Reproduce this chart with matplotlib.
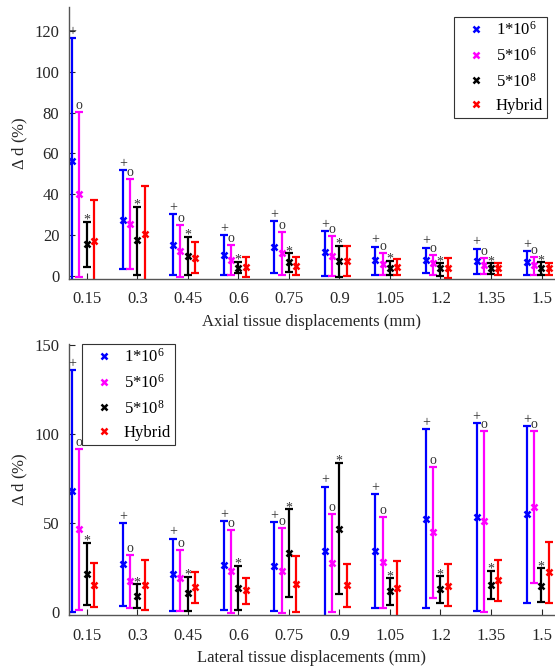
import matplotlib
matplotlib.use("Agg")
import matplotlib.pyplot as plt
from matplotlib.lines import Line2D

plt.rcParams['font.family'] = ['Liberation Serif', 'DejaVu Serif']
plt.rcParams['mathtext.fontset'] = 'custom'
plt.rcParams['mathtext.rm'] = 'Liberation Serif'
plt.rcParams['mathtext.it'] = 'Liberation Serif:italic'

# displacement groups
displacements = [0.15, 0.3, 0.45, 0.6, 0.75, 0.9, 1.05, 1.2, 1.35, 1.5]
tick_labels = ['0.15', '0.3', '0.45', '0.6', '0.75', '0.9', '1.05', '1.2', '1.35', '1.5']
series_names = ['1*10$^{6}$', '5*10$^{6}$', '5*10$^{8}$', 'Hybrid']
series_marks = ['+', 'o', '*', '']

# Axial: mean, upper and lower end of each error bar (%)
axial_mean_1e6 = [56.5, 27.4, 15.2, 10.1, 14.0, 11.6, 7.8, 7.8, 7.3, 7.0]
axial_high_1e6 = [116.5, 51.7, 30.5, 19.9, 27.1, 22.2, 14.4, 13.9, 13.4, 12.4]
axial_low_1e6 = [-3, 3.3, 0.5, 0.5, 1.3, 0.2, 0.5, 1.3, 1.0, 0.5]
axial_mean_5e6 = [40.2, 25.6, 12.4, 7.8, 11.1, 9.8, 5.9, 6.2, 5.4, 5.4]
axial_high_5e6 = [80.1, 47.7, 25.1, 15.2, 21.5, 19.7, 11.1, 10.3, 9.0, 9.1]
axial_low_5e6 = [-0.3, 3.3, -0.3, 0.5, 0.5, 0.0, 0.5, 0.5, 1.0, 0.5]
axial_mean_5e8 = [15.7, 17.6, 9.8, 4.1, 6.7, 7.5, 3.8, 3.8, 3.8, 3.8]
axial_high_5e8 = [26.6, 33.8, 19.3, 7.0, 11.1, 14.8, 7.5, 6.2, 6.2, 6.7]
axial_low_5e8 = [4.6, 0.6, 0.5, 1.3, 1.8, -0.6, 0.5, 0.0, 1.0, 0.5]
axial_mean_hyb = [17.3, 20.6, 9.0, 4.6, 4.9, 7.5, 4.6, 3.8, 3.8, 3.8]
axial_high_hyb = [37.0, 43.9, 16.5, 9.5, 9.5, 14.8, 8.2, 8.7, 6.5, 6.2]
axial_low_hyb = [-3, -3, 1.3, -0.3, 0.5, 0.0, 0.5, -1.1, 0.5, 0.5]

# Lateral
lateral_mean_1e6 = [67.7, 26.5, 20.9, 26.1, 25.6, 34.1, 34.1, 52.3, 53.2, 54.7]
lateral_high_1e6 = [136, 50, 41.1, 50.8, 50.4, 70.3, 66.3, 102.6, 106, 104.5]
lateral_low_1e6 = [0, 3.2, 0.4, 1.0, 0.6, -3, 2.3, 2.3, 0.4, 4.7]
lateral_mean_5e6 = [46.3, 17.2, 18.7, 22.9, 22.9, 27.6, 28.0, 44.8, 50.8, 58.8]
lateral_high_5e6 = [91.6, 31.7, 34.9, 46.1, 47.0, 55.0, 53.2, 81.5, 101.7, 101.7]
lateral_low_5e6 = [1.0, 1.9, 0.4, -0.5, -0.5, 0.0, 2.3, 7.9, 0.0, 15.9]
lateral_mean_5e8 = [21.1, 9.0, 10.3, 13.4, 33.0, 46.6, 11.8, 12.5, 14.9, 14.6]
lateral_high_5e8 = [38.6, 15.5, 19.6, 25.8, 57.5, 83.6, 18.7, 19.9, 22.9, 24.3]
lateral_low_5e8 = [3.7, 1.9, 0.4, 1.0, 8.4, 9.7, 3.7, 5.0, 7.1, 5.2]
lateral_mean_hyb = [14.9, 14.9, 14.0, 12.1, 15.5, 14.9, 13.1, 14.6, 17.7, 22.0]
lateral_high_hyb = [27.6, 28.9, 22.4, 19.0, 31.5, 27.0, 28.4, 26.5, 28.9, 39.2]
lateral_low_hyb = [2.8, 1.0, 4.7, 4.3, 0.0, 2.8, -3, 3.2, 6.0, 4.7]

colors = ['#0000ff', '#ff00ff', '#000000', '#ff0000']
offsets = [-0.043, -0.022, -0.001, 0.022]
mark_shift = {'+': 3, 'o': 3, '*': -2}
axis_grey = '#262626'


def draw_panel(ax, means, highs, lows, xlabel, ylim, yticks):
    for k in range(4):
        xs = [d + offsets[k] for d in displacements]
        err_lo = [m - lo for m, lo in zip(means[k], lows[k])]
        err_hi = [hi - m for m, hi in zip(means[k], highs[k])]
        ax.errorbar(xs, means[k], yerr=[err_lo, err_hi], fmt='none',
                    ecolor=colors[k], elinewidth=1.6, capsize=3, capthick=1.6)
        ax.plot(xs, means[k], 'x', color=colors[k], ms=4.5, mew=1.8)
        # significance symbols above the bars
        if series_marks[k]:
            for x, hi in zip(xs, highs[k]):
                ax.annotate(series_marks[k], (x, hi),
                            xytext=(0, mark_shift[series_marks[k]]),
                            textcoords='offset pixels', ha='center',
                            va='baseline', fontsize=10, color='#333333')
    ax.set_xlim(0.097, 1.54)
    ax.set_ylim(*ylim)
    ax.set_xticks(displacements)
    ax.set_xticklabels(tick_labels)
    ax.set_yticks(yticks)
    ax.set_xlabel(xlabel, fontsize=12, color=axis_grey, labelpad=5)
    ax.set_ylabel('$\\Delta$ d (%)', fontsize=12, color=axis_grey, labelpad=3)
    ax.tick_params(direction='in', length=4, width=0.8, labelsize=12,
                   colors=axis_grey, pad=7)
    ax.tick_params(axis='x', pad=9)
    for side in ['top', 'right']:
        ax.spines[side].set_visible(False)
    for side in ['left', 'bottom']:
        ax.spines[side].set_color('#555555')
        ax.spines[side].set_linewidth(1.0)


fig = plt.figure(figsize=(5.55, 6.69), dpi=100)
ax1 = fig.add_axes([0.1243, 0.5835, 0.8757, 0.406])
ax2 = fig.add_axes([0.1243, 0.0807, 0.8757, 0.405])

draw_panel(ax1,
           [axial_mean_1e6, axial_mean_5e6, axial_mean_5e8, axial_mean_hyb],
           [axial_high_1e6, axial_high_5e6, axial_high_5e8, axial_high_hyb],
           [axial_low_1e6, axial_low_5e6, axial_low_5e8, axial_low_hyb],
           'Axial tissue displacements (mm)', (-1.3, 131.7),
           [0, 20, 40, 60, 80, 100, 120])
draw_panel(ax2,
           [lateral_mean_1e6, lateral_mean_5e6, lateral_mean_5e8, lateral_mean_hyb],
           [lateral_high_1e6, lateral_high_5e6, lateral_high_5e8, lateral_high_hyb],
           [lateral_low_1e6, lateral_low_5e6, lateral_low_5e8, lateral_low_hyb],
           'Lateral tissue displacements (mm)', (-1.9, 150.4),
           [0, 50, 100, 150])

handles = [Line2D([], [], ls='none', marker='x', color=c, ms=4.5, mew=1.8)
           for c in colors]
leg_kw = dict(fontsize=12, fancybox=False, framealpha=1, edgecolor='#333333',
              handlelength=2.1, handletextpad=0.15, borderaxespad=0,
              labelspacing=0.46, borderpad=0.25)
leg1 = ax1.legend(handles, series_names, loc='upper right',
                  bbox_to_anchor=(0.9835, 0.963), **leg_kw)
leg2 = ax2.legend(handles, series_names, loc='upper left',
                  bbox_to_anchor=(0.027, 1.0), **leg_kw)
for leg in [leg1, leg2]:
    leg.get_frame().set_linewidth(0.8)

fig.savefig('out.png', dpi=100)
